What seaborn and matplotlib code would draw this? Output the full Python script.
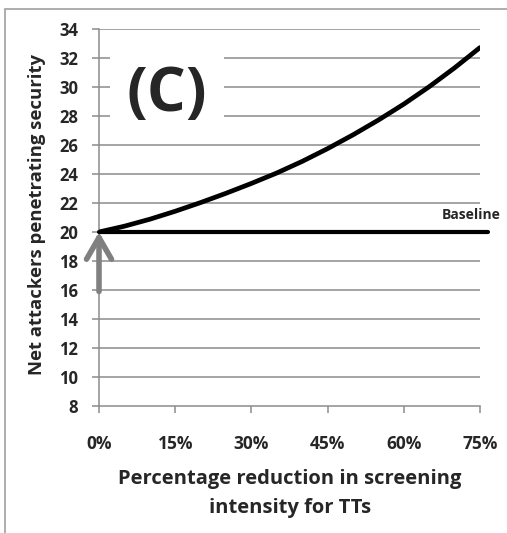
import matplotlib
matplotlib.use("Agg")
import matplotlib.pyplot as plt
import seaborn as sns
import pandas as pd
from matplotlib.patches import Rectangle

# ---- data ----
reduction_pct = [0, 5, 10, 15, 20, 25, 30, 35, 40, 45, 50, 55, 60, 65, 70, 75]
net_attackers = [20.0, 20.4, 20.88, 21.43, 22.03, 22.67, 23.35, 24.07, 24.87,
                 25.75, 26.7, 27.72, 28.82, 30.02, 31.32, 32.72]
baseline_value = 20
baseline_x = [0, 76.5]
x_ticks = [0, 15, 30, 45, 60, 75]
x_tick_labels = ["0%", "15%", "30%", "45%", "60%", "75%"]
y_ticks = list(range(8, 35, 2))
arrow_from = 15.9
arrow_to = 20

sns.set_theme(style="white")
plt.rcParams['font.family'] = ['Open Sans', 'DejaVu Sans']
plt.rcParams['font.weight'] = 'bold'

fig = plt.figure(figsize=(5.07, 5.33), dpi=100)
ax = fig.add_axes([99/507, 1-406/533, (480-99)/507, (406-29)/533])

grid_c = '#8c8c8c'
for y in y_ticks[1:]:
    ax.axhline(y, color=grid_c, lw=1.1, zorder=0)

df = pd.DataFrame({"x": reduction_pct, "y": net_attackers})
sns.lineplot(data=df, x="x", y="y", ax=ax, color='black', lw=3.4, zorder=3)

bdf = pd.DataFrame({"x": baseline_x, "y": [baseline_value]*len(baseline_x)})
sns.lineplot(data=bdf, x="x", y="y", ax=ax, color='black', lw=3.0, zorder=3,
             clip_on=False)

ax.set_xlim(0, 75)
ax.set_ylim(8, 34)
ax.set_xticks(x_ticks)
ax.set_xticklabels(x_tick_labels)
ax.set_yticks(y_ticks)

for s in ['top', 'right']:
    ax.spines[s].set_visible(False)
for s in ['left', 'bottom']:
    ax.spines[s].set_color(grid_c)
    ax.spines[s].set_linewidth(1.1)

ax.tick_params(axis='y', which='major', left=True, length=5, width=1.1,
               color=grid_c, pad=10, labelsize=12)
ax.tick_params(axis='x', which='major', bottom=True, direction='out', length=5,
               width=1.1, color=grid_c, pad=16, labelsize=12.5)
for lab in ax.get_xticklabels() + ax.get_yticklabels():
    lab.set_fontweight('bold')

ax.set_xlabel("Percentage reduction in screening\nintensity for TTs",
              fontsize=14.5, fontweight='bold', linespacing=1.6, va='center')
ax.xaxis.set_label_coords(0.501, -0.233)
ax.set_ylabel("Net attackers penetrating security", fontsize=13.3,
              fontweight='bold', va='center')
ax.yaxis.set_label_coords(-0.163, 0.507)

ax.text(13.4, 29.4, "(C)", fontsize=44, fontweight='bold', ha='center',
        va='center', zorder=4,
        bbox=dict(facecolor='white', edgecolor='none', pad=12))

ax.text(79.0, 21.2, "Baseline", fontsize=10, fontweight='bold', ha='right',
        va='center', clip_on=False)

ax.annotate('', xy=(0, arrow_to), xytext=(0, arrow_from),
            arrowprops=dict(arrowstyle='->, head_length=1.3, head_width=0.75',
                            color='#808080', lw=4, shrinkA=0, shrinkB=0,
                            capstyle='round', joinstyle='round'),
            annotation_clip=False, zorder=5)

fig.patches.append(Rectangle((5/507, -0.1), 1.2, 1-9/533+0.1,
                             transform=fig.transFigure, fill=False,
                             edgecolor='#a0a0a0', lw=1.2))

if ax.legend_:
    ax.legend_.remove()
fig.savefig("out.png", dpi=100)
